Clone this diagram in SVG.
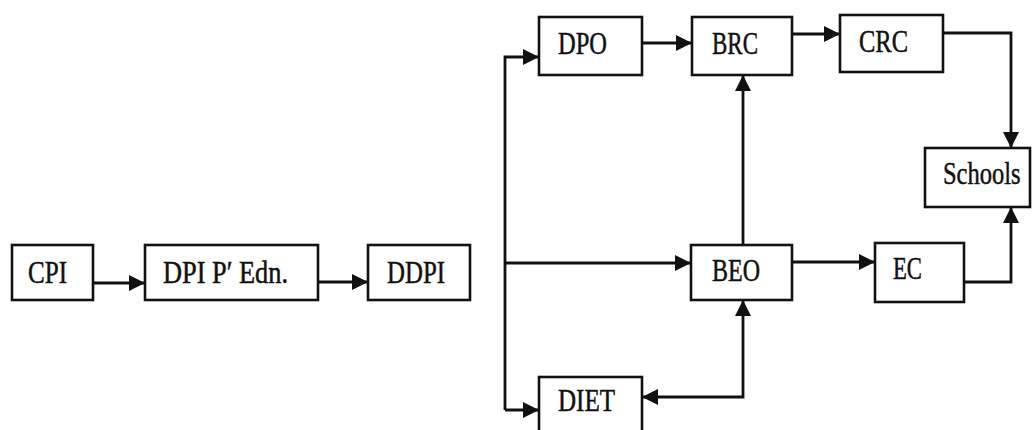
<svg xmlns="http://www.w3.org/2000/svg" width="1033" height="430" viewBox="0 0 1033 430">
  <style>
    .box { fill: #fff; stroke: #111; stroke-width: 2.6; }
    .lbl { font-family: "Liberation Serif", "DejaVu Serif", serif; font-size: 31px; fill: #111; stroke: #111; stroke-width: 0.5; }
    .wire { fill: none; stroke: #111; stroke-width: 2.8; }
  </style>
  <defs>
    <marker id="arrow" viewBox="0 0 16 16" refX="15" refY="8" markerWidth="16" markerHeight="16" markerUnits="userSpaceOnUse" orient="auto-start-reverse">
      <path d="M0,0 L16,8 L0,16 Z" fill="#111"/>
    </marker>
  </defs>
  <rect width="1033" height="430" fill="#fff"/>

  <g id="connectors">
    <path class="wire" d="M93,283 H144" marker-end="url(#arrow)"/>
    <path class="wire" d="M318,282 H367" marker-end="url(#arrow)"/>
    <path class="wire" d="M505,410 V57 H538" marker-end="url(#arrow)"/>
    <path class="wire" d="M505,410 H538" marker-end="url(#arrow)"/>
    <path class="wire" d="M505,263 H690" marker-end="url(#arrow)"/>
    <path class="wire" d="M642,43 H691" marker-end="url(#arrow)"/>
    <path class="wire" d="M792,34 H839" marker-end="url(#arrow)"/>
    <path class="wire" d="M943,33 H1011 V147" marker-end="url(#arrow)"/>
    <path class="wire" d="M743,245 V76" marker-end="url(#arrow)"/>
    <path class="wire" d="M792,262 H874" marker-end="url(#arrow)"/>
    <path class="wire" d="M964,282 H1011 V208" marker-end="url(#arrow)"/>
    <path class="wire" d="M743,301 V397 H643" marker-start="url(#arrow)" marker-end="url(#arrow)"/>
  </g>

  <g id="cpi">
    <rect class="box" x="12" y="245" width="81" height="55"/>
    <text class="lbl" x="28" y="283" textLength="39" lengthAdjust="spacingAndGlyphs">CPI</text>
  </g>
  <g id="dpi">
    <rect class="box" x="145" y="245" width="173" height="55"/>
    <text class="lbl" x="163" y="283" textLength="125" lengthAdjust="spacingAndGlyphs">DPI P′ Edn.</text>
  </g>
  <g id="ddpi">
    <rect class="box" x="368" y="245" width="102" height="55"/>
    <text class="lbl" x="387" y="283" textLength="58" lengthAdjust="spacingAndGlyphs">DDPI</text>
  </g>
  <g id="dpo">
    <rect class="box" x="539" y="17" width="103" height="58"/>
    <text class="lbl" x="558" y="54" textLength="49" lengthAdjust="spacingAndGlyphs">DPO</text>
  </g>
  <g id="brc">
    <rect class="box" x="692" y="17" width="100" height="58"/>
    <text class="lbl" x="712" y="54" textLength="46" lengthAdjust="spacingAndGlyphs">BRC</text>
  </g>
  <g id="crc">
    <rect class="box" x="840" y="15" width="103" height="57"/>
    <text class="lbl" x="859" y="52" textLength="49" lengthAdjust="spacingAndGlyphs">CRC</text>
  </g>
  <g id="schools">
    <rect class="box" x="925" y="148" width="105" height="59"/>
    <!-- narrowed by scaling so the label stays inside the box -->
    <text class="lbl" transform="translate(943,184) scale(0.79,1)">Schools</text>
  </g>
  <g id="beo">
    <rect class="box" x="691" y="245" width="101" height="55"/>
    <text class="lbl" x="712" y="281" textLength="48" lengthAdjust="spacingAndGlyphs">BEO</text>
  </g>
  <g id="ec">
    <rect class="box" x="875" y="243" width="89" height="59"/>
    <text class="lbl" x="893" y="279" textLength="29" lengthAdjust="spacingAndGlyphs">EC</text>
  </g>
  <g id="diet">
    <rect class="box" x="539" y="377" width="103" height="60"/>
    <text class="lbl" x="558" y="411" textLength="57" lengthAdjust="spacingAndGlyphs">DIET</text>
  </g>
</svg>
